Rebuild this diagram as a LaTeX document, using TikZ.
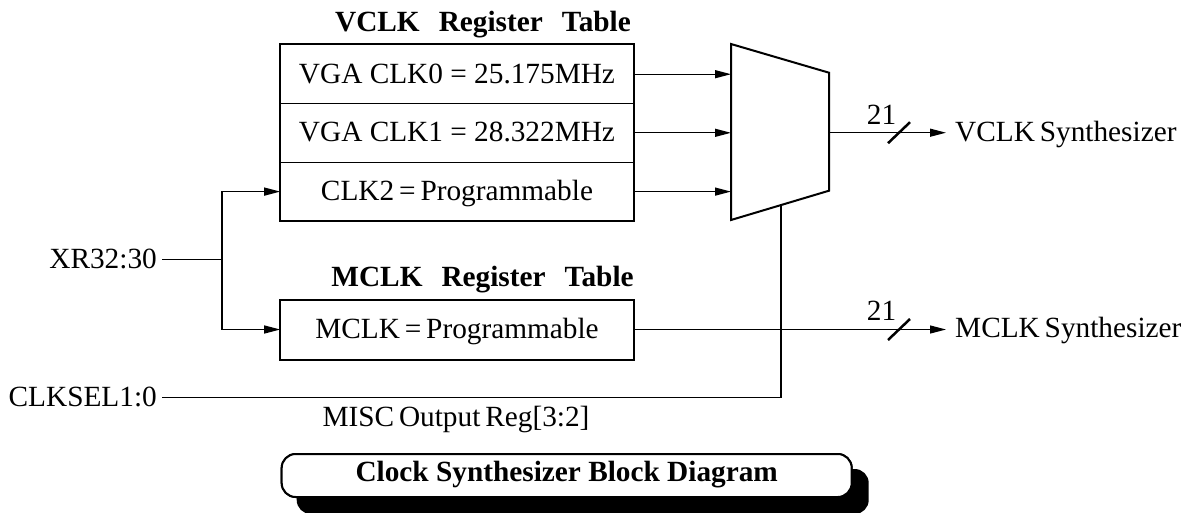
\documentclass[tikz,border=0pt]{standalone}
\usepackage{fontspec}
\setmainfont{Liberation Serif}
\usetikzlibrary{arrows.meta}
\begin{document}
\begin{tikzpicture}[x=1pt,y=-1pt,
  every node/.style={font=\fontsize{29.3}{32}\selectfont},
  lbl/.style={inner sep=2.5pt, text height=20.3pt, text depth=2.3pt},
  rowbox/.style={draw, line width=1pt, minimum width=352.6pt, minimum height=58.7pt, inner sep=0pt, text height=20.3pt, text depth=2.3pt},
  ttl/.style={font=\fontsize{29.3}{32}\selectfont\bfseries, anchor=base, inner sep=0pt},
  wire/.style={line width=1.3pt},
  arr/.style={wire, -{Triangle[length=16pt,width=8pt]}},
  bus/.style={line width=2.5pt},
  frame/.style={line width=2pt},
  capbox/.style={draw, line width=2pt, fill=white, rounded corners=14pt, minimum width=570pt, minimum height=43pt, inner sep=0pt, text height=17.4pt, text depth=5.4pt, font=\fontsize{29.3}{32}\selectfont\bfseries}
]
\useasboundingbox (0,0) rectangle (1194,512);
\fill[white] (0,0) rectangle (1194,512);

% VCLK register table
\node[ttl] (vt) at (483,31.7) {VCLK\hspace{19pt}Register\hspace{19pt}Table};
\node[rowbox] (r0) at (457,74.2) {VGA CLK0 = 25.175MHz};
\node[rowbox] (r1) at (457,132.8) {VGA CLK1 = 28.322MHz};
\node[rowbox] (r2) at (457,191.6) {CLK2\,=\,Programmable};
\draw[frame] (r0.north west) rectangle (r2.south east);

% MCLK register table
\node[ttl] (mt) at (482.5,286.7) {MCLK\hspace{19pt}Register\hspace{19pt}Table};
\node[rowbox, minimum height=59pt] (mc) at (457,329.5) {MCLK\,=\,Programmable};
\draw[frame] (mc.north west) rectangle (mc.south east);

% multiplexer
\draw[frame, fill=white] (731,44) coordinate (m1) -- (829,72.7) coordinate (m2)
  -- (829,190.7) coordinate (m3) -- (731,220) coordinate (m4) -- cycle;
\coordinate (mo) at (829,132.7);
\coordinate (mb) at (781,205.1);

\draw[arr] (r0.east) -- (r0.east -| m1);
\draw[arr] (r1.east) -- (r1.east -| m1);
\draw[arr] (r2.east) -- (r2.east -| m1);

% outputs
\node[lbl, inner xsep=9pt, anchor=base west] (vs) at (946,141.7) {VCLK\,Synthesizer};
\node[lbl, inner xsep=9pt, anchor=base west] (ms) at (946,337.5) {MCLK\,Synthesizer};
\draw[arr] (mo) -- (mo -| vs.west);
\draw[arr] (mc.east) -- (mc.east -| ms.west);
\coordinate (s1) at (899,132.7);
\coordinate (s2) at (899,329.5);
\draw[bus] (s1) ++(-11,10.5) -- ++(22,-21);
\draw[bus] (s2) ++(-11,10.5) -- ++(22,-21);
\node[lbl, anchor=base, inner sep=0pt] (n1) at (881.5,124.3) {21};
\node[lbl, anchor=base, inner sep=0pt] (n2) at (881.5,320) {21};

% inputs
\node[lbl, inner xsep=5pt, anchor=base east] (xr) at (162,268.3) {XR32:30};
\node[lbl, inner xsep=5pt, anchor=base east] (cs) at (162,406.7) {CLKSEL1:0};
\path (xr.east) ++(60,0) coordinate (j1);
\draw[wire] (xr.east) -- (j1);
\draw[arr] (j1) |- (r2.west);
\draw[arr] (j1) |- (mc.west);
\draw[wire] (cs.east) -| (mb);
\node[lbl, anchor=base] (misc) at (456,426.7) {MISC\,Output\,Reg[3:2]};

% caption
\node[capbox] (cap) at (566.7,475.5) {};
\fill[rounded corners=14pt] ([shift={(16,16)}]cap.south west) rectangle ([shift={(16,16)}]cap.north east);
\node[capbox] at (cap) {Clock Synthesizer Block Diagram};
\end{tikzpicture}
\end{document}
